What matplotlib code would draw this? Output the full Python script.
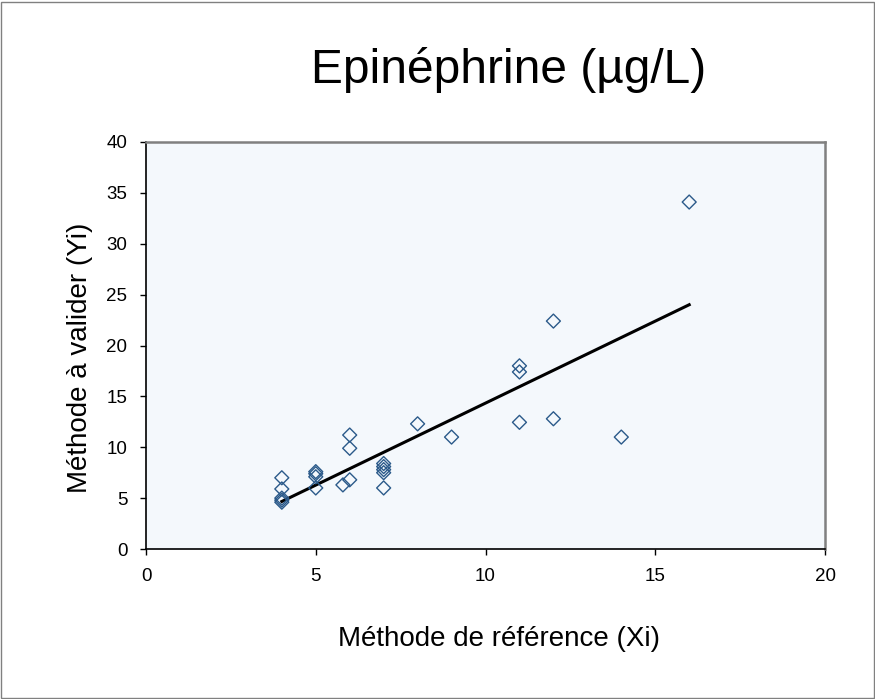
import numpy as np
import matplotlib
matplotlib.use("Agg")
import matplotlib.pyplot as plt
from matplotlib.patches import Rectangle

plt.rcParams['font.family'] = ['Liberation Sans', 'DejaVu Sans']

title = "Epinéphrine (µg/L)"
x_label = "Méthode de référence (Xi)"
y_label = "Méthode à valider (Yi)"

x_ref = [4, 4, 4, 4, 4, 5, 5, 5, 5, 5.8, 6, 6, 6, 7, 7, 7, 7, 7, 8, 9, 11, 11, 11, 12, 12, 14, 16]
y_val = [7.0, 5.9, 5.0, 4.8, 4.6, 7.6, 7.4, 7.1, 6.0, 6.3, 6.8, 9.9, 11.2,
         8.4, 8.1, 7.8, 7.5, 6.0, 12.3, 11.0, 18.0, 17.4, 12.45, 22.4, 12.8, 11.0, 34.1]

x_ticks = [0, 5, 10, 15, 20]
y_ticks = [0, 5, 10, 15, 20, 25, 30, 35, 40]

fig = plt.figure(figsize=(8.75, 6.99), dpi=100)
fig.patch.set_facecolor('white')
fig.add_artist(Rectangle((0.0015, 0.0015), 0.997, 0.996, transform=fig.transFigure,
                         fill=False, edgecolor='#808080', linewidth=1.0))

ax = fig.add_axes([146/875, 1-549/699, (825-146)/875, (549-142)/699])
ax.set_facecolor('#F4F8FC')

ax.scatter(x_ref, y_val, marker='D', s=7.1**2, facecolors='none',
           edgecolors='#2B5A8A', linewidths=1.0, zorder=3)

slope, intercept = np.polyfit(x_ref, y_val, 1)
xl = np.array([min(x_ref), max(x_ref)])
ax.plot(xl, slope*xl + intercept, color='black', linewidth=2.2, zorder=2)

ax.set_xlim(0, 20)
ax.set_ylim(0, 40)
ax.set_xticks(x_ticks)
ax.set_yticks(y_ticks)
ax.tick_params(direction='out', length=4.5, width=1, labelsize=13.5, pad=9, colors='black')

for s in ['left', 'bottom']:
    ax.spines[s].set_color('black')
    ax.spines[s].set_linewidth(1.2)
for s in ['top', 'right']:
    ax.spines[s].set_color('#808080')
    ax.spines[s].set_linewidth(1.8)

fig.text(508.5/875, 1-83.3/699, title, fontsize=34.5, ha='center', va='baseline')
fig.text(499/875, 1-646/699, x_label, fontsize=20, ha='center', va='baseline')
fig.text(80/875, 1-358/699, y_label, fontsize=20, ha='center', va='center', rotation=90)

fig.savefig('out.png', dpi=100)
